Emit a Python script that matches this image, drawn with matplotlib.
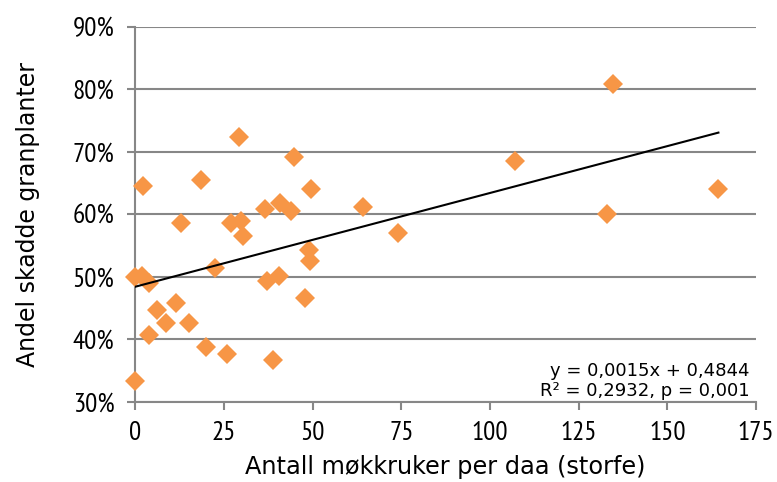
import numpy as np
import matplotlib.pyplot as plt
from matplotlib.ticker import FuncFormatter

# Data (x: dung pats per daa, y: share damaged)
mokk = [0.0, 0.0, 2.2, 1.9, 3.8, 6.1, 3.8, 8.6, 11.5, 12.9, 15.3, 18.6,
        20.0, 22.5, 25.8, 27.0, 29.4, 29.8, 30.4, 36.6, 37.1, 38.8, 40.4,
        40.9, 44.0, 44.8, 47.9, 48.9, 49.3, 49.6, 64.1, 74.0, 107.1, 132.9,
        134.6, 164.4]
skadde = [33.4, 50.0, 64.5, 50.1, 49.0, 44.7, 40.7, 42.6, 45.9, 58.7, 42.6,
          65.5, 38.8, 51.5, 37.7, 58.6, 72.4, 59.0, 56.5, 60.8, 49.4, 36.7,
          50.1, 61.9, 60.6, 69.2, 46.7, 54.3, 52.6, 64.1, 61.2, 57.0, 68.6,
          60.1, 80.8, 64.0]

# trend line from the equation shown on the chart
slope = 0.0015
intercept = 0.4844
eq_text = "y = 0,0015x + 0,4844\nR² = 0,2932, p = 0,001"

ORANGE = '#F79646'
GRID = '#878787'
TICKFONT = 'PT Sans Narrow'

fig = plt.figure(figsize=(7.77, 4.82), dpi=100)
ax = fig.add_axes([0.174, 0.166, 0.799, 0.778])

ax.plot(mokk, skadde, linestyle='none', marker='D', ms=10.5,
        color=ORANGE, markeredgewidth=0, zorder=3, clip_on=False)

xs = np.array([0, max(mokk)])
ax.plot(xs, (intercept + slope * xs) * 100, color='black', lw=1.5, zorder=4)

ax.set_xlim(0, 175)
ax.set_ylim(30, 90)
ax.set_xticks(np.arange(0, 176, 25))
ax.set_yticks(np.arange(30, 91, 10))
ax.yaxis.set_major_formatter(FuncFormatter(lambda v, p: f'{v:.0f}%'))

ax.grid(axis='y', color=GRID, lw=1.5)
ax.set_axisbelow(True)
for s in ['top', 'right']:
    ax.spines[s].set_visible(False)
for s in ['left', 'bottom']:
    ax.spines[s].set_color(GRID)
    ax.spines[s].set_linewidth(1.5)

ax.tick_params(axis='both', colors=GRID, width=1.5, length=6,
               labelcolor='black', labelsize=19.5)
ax.tick_params(axis='x', pad=8)
ax.tick_params(axis='y', pad=9)
plt.setp(ax.get_xticklabels() + ax.get_yticklabels(), family=TICKFONT)

ax.set_xlabel('Antall møkkruker per daa (storfe)', fontsize=17.3,
              family='DejaVu Sans', va='center')
ax.set_ylabel('Andel skadde granplanter', fontsize=17,
              family='DejaVu Sans', va='center')
ax.xaxis.set_label_coords(0.5, -0.174)
ax.yaxis.set_label_coords(-0.172, 0.5)

ax.text(0.989, 0.004, eq_text, transform=ax.transAxes, ha='right',
        va='bottom', fontsize=13, family='DejaVu Sans', linespacing=1.15)

fig.savefig('out.png', dpi=100)
